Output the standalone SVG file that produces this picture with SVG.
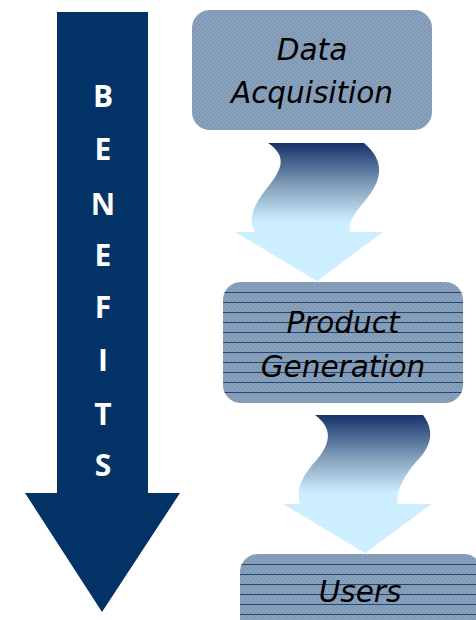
<svg xmlns="http://www.w3.org/2000/svg" width="476" height="620" viewBox="0 0 476 620">
  <defs>
    <!-- fine two-tone checker used as the box fill -->
    <pattern id="checks" width="4" height="4" patternUnits="userSpaceOnUse">
      <rect width="4" height="4" fill="#8099b4"/>
      <rect width="2" height="2" fill="#8aa1bb"/>
      <rect x="2" y="2" width="2" height="2" fill="#8aa1bb"/>
    </pattern>
    <clipPath id="clip-product">
      <rect x="223" y="282" width="240" height="121" rx="18"/>
    </clipPath>
    <clipPath id="clip-users">
      <rect x="240" y="554" width="242" height="90" rx="18"/>
    </clipPath>
    <linearGradient id="flow1" gradientUnits="userSpaceOnUse" x1="0" y1="143" x2="0" y2="232">
      <stop offset="0" stop-color="#16326a"/>
      <stop offset="0.5" stop-color="#87a3be"/>
      <stop offset="0.88" stop-color="#cdeeff"/>
      <stop offset="1" stop-color="#cdeeff"/>
    </linearGradient>
    <linearGradient id="flow2" gradientUnits="userSpaceOnUse" x1="0" y1="415" x2="0" y2="504">
      <stop offset="0" stop-color="#16326a"/>
      <stop offset="0.5" stop-color="#87a3be"/>
      <stop offset="0.88" stop-color="#cdeeff"/>
      <stop offset="1" stop-color="#cdeeff"/>
    </linearGradient>
    <style>
      .box { fill: url(#checks); }
      .rule { fill: none; stroke: #1f4879; stroke-width: 1; }
      .label { font-family: "DejaVu Sans", "Open Sans", sans-serif; font-style: italic; font-size: 29.5px; fill: #000; text-anchor: middle; }
      .letter { font-family: "Open Sans", "DejaVu Sans", sans-serif; font-weight: 700; font-size: 30px; fill: #fff; text-anchor: middle; }
    </style>
  </defs>

  <!-- tall BENEFITS arrow -->
  <g id="benefits">
    <path d="M57,12 L148,12 L148,493 L180,493 L102,612 L25,493 L57,493 Z" fill="#033366"/>
    <text class="letter" x="103" y="107">B</text>
    <text class="letter" x="103" y="160">E</text>
    <text class="letter" x="103" y="215">N</text>
    <text class="letter" x="103" y="266">E</text>
    <text class="letter" x="103" y="318">F</text>
    <text class="letter" x="103" y="371">I</text>
    <text class="letter" x="103" y="425">T</text>
    <text class="letter" x="103" y="476">S</text>
  </g>

  <g id="connectors">
    <path d="M268,143 L364,143 C388,163 380,183 364,202 C350,218 347,228 351,232 L383,232 L317,281 L235,232 L255,232 C248,222 252,208 264,192 C280,172 290,158 268,143 Z" fill="url(#flow1)"/>
    <path d="M315,415 L423,415 C436,432 430,448 416,462 C402,478 395,495 398,504 L432,504 L365,553 L283,504 L300,504 C296,492 300,480 312,465 C326,450 338,432 315,415 Z" fill="url(#flow2)"/>
  </g>

  <g id="data-acquisition">
    <rect class="box" x="192" y="10" width="240" height="120" rx="18"/>
    <text class="label" x="312" y="60">Data</text>
    <text class="label" x="312" y="103">Acquisition</text>
  </g>

  <g id="product-generation">
    <rect class="box" x="223" y="282" width="240" height="121" rx="18"/>
    <path class="rule" clip-path="url(#clip-product)" d="M223,292.5H463 M223,302.5H463 M223,312.5H463 M223,322.5H463 M223,332.5H463 M223,342.5H463 M223,352.5H463 M223,362.5H463 M223,372.5H463 M223,382.5H463 M223,392.5H463"/>
    <text class="label" x="343" y="333">Product</text>
    <text class="label" x="343" y="377">Generation</text>
  </g>

  <g id="users">
    <rect class="box" x="240" y="554" width="242" height="90" rx="18"/>
    <path class="rule" clip-path="url(#clip-users)" d="M240,564.5H482 M240,574.5H482 M240,584.5H482 M240,594.5H482 M240,604.5H482 M240,614.5H482"/>
    <text class="label" x="360" y="602">Users</text>
  </g>
</svg>
